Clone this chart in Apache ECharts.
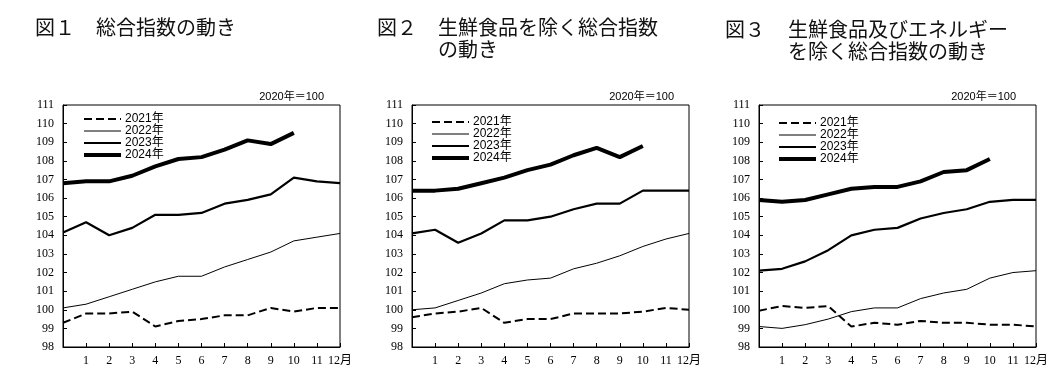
<!DOCTYPE html>
<html><head><meta charset="utf-8">
<script src="https://cdn.jsdelivr.net/npm/echarts@6/dist/echarts.min.js"></script>
<style>html,body{margin:0;padding:0;background:#fff}#c{width:1063px;height:380px}</style>
</head><body><div id="c"></div>
<script>
// x-axis: previous December (blank) then months 1..12
const monthLabels = ['', '1', '2', '3', '4', '5', '6', '7', '8', '9', '10', '11', '12月'];
const yearNames = ['2021年', '2022年', '2023年', '2024年'];

// Fig.1 総合指数
const all2021 = [99.3, 99.8, 99.8, 99.9, 99.1, 99.4, 99.5, 99.7, 99.7, 100.1, 99.9, 100.1, 100.1];
const all2022 = [100.1, 100.3, 100.7, 101.1, 101.5, 101.8, 101.8, 102.3, 102.7, 103.1, 103.7, 103.9, 104.1];
const all2023 = [104.15, 104.7, 104.0, 104.4, 105.1, 105.1, 105.2, 105.7, 105.9, 106.2, 107.1, 106.9, 106.8];
const all2024 = [106.8, 106.9, 106.9, 107.2, 107.7, 108.1, 108.2, 108.6, 109.1, 108.9, 109.5];

// Fig.2 生鮮食品を除く総合指数
const core2021 = [99.6, 99.8, 99.9, 100.1, 99.3, 99.5, 99.5, 99.8, 99.8, 99.8, 99.9, 100.1, 100.0];
const core2022 = [100.0, 100.1, 100.5, 100.9, 101.4, 101.6, 101.7, 102.2, 102.5, 102.9, 103.4, 103.8, 104.1];
const core2023 = [104.1, 104.3, 103.6, 104.1, 104.8, 104.8, 105.0, 105.4, 105.7, 105.7, 106.4, 106.4, 106.4];
const core2024 = [106.4, 106.4, 106.5, 106.8, 107.1, 107.5, 107.8, 108.3, 108.7, 108.2, 108.8];

// Fig.3 生鮮食品及びエネルギーを除く総合指数
const coreCore2021 = [99.95, 100.2, 100.1, 100.2, 99.1, 99.3, 99.2, 99.4, 99.3, 99.3, 99.2, 99.2, 99.1];
const coreCore2022 = [99.1, 99.0, 99.2, 99.5, 99.9, 100.1, 100.1, 100.6, 100.9, 101.1, 101.7, 102.0, 102.1];
const coreCore2023 = [102.1, 102.2, 102.6, 103.2, 104.0, 104.3, 104.4, 104.9, 105.2, 105.4, 105.8, 105.9, 105.9];
const coreCore2024 = [105.9, 105.8, 105.9, 106.2, 106.5, 106.6, 106.6, 106.9, 107.4, 107.5, 108.1];

const panels = [
  [all2021, all2022, all2023, all2024],
  [core2021, core2022, core2023, core2024],
  [coreCore2021, coreCore2022, coreCore2023, coreCore2024]
];

const gridLefts = [63, 412, 759];
const gridWidth = 277;
const legendLefts = [82, 430, 777];
const legendTops = [113, 116, 117];
const noteRights = [1063 - 324, 1063 - 674, 1063 - 1016];

const lineStyles = [
  {color: '#000', width: 2, type: [8, 4]},
  {color: '#000', width: 1},
  {color: '#000', width: 2.2},
  {color: '#000', width: 4}
];

const serif = "'Liberation Serif','Noto Sans CJK JP',serif";
const sans = "'Liberation Sans','Noto Sans CJK JP',sans-serif";
const cjk = "'Noto Sans CJK JP',sans-serif";

const grid = [], xAxis = [], yAxis = [], series = [], legend = [], title = [];
panels.forEach((p, i) => {
  grid.push({left: gridLefts[i], width: gridWidth, top: 105, height: 242, show: true,
    borderColor: '#000', borderWidth: 1, backgroundColor: 'transparent'});
  xAxis.push({type: 'category', gridIndex: i, data: monthLabels, boundaryGap: false,
    axisLine: {lineStyle: {color: '#000', width: 1}},
    axisTick: {inside: true, length: 4, interval: 0, lineStyle: {color: '#000'}},
    axisLabel: {interval: 0, color: '#000', fontSize: 12, fontFamily: serif, margin: 8},
    splitLine: {show: false}});
  yAxis.push({type: 'value', gridIndex: i, min: 98, max: 111, interval: 1,
    axisLine: {show: true, lineStyle: {color: '#000', width: 1}},
    axisTick: {show: true, inside: true, length: 4, lineStyle: {color: '#000'}},
    axisLabel: {color: '#000', fontSize: 12, fontFamily: serif, margin: 9},
    splitLine: {show: false}});
  p.forEach((vals, k) => {
    series.push({type: 'line', name: yearNames[k], xAxisIndex: i, yAxisIndex: i,
      data: vals, symbol: 'none', lineStyle: lineStyles[k], itemStyle: {color: '#000'},
      animation: false, z: 2 + k});
  });
  legend.push({orient: 'vertical', left: legendLefts[i], top: legendTops[i], data: yearNames,
    itemWidth: 37, itemHeight: 10, itemGap: 0, padding: 0, selectedMode: false,
    itemStyle: {color: 'transparent', borderColor: 'transparent', borderWidth: 0, opacity: 0},
    lineStyle: {width: 'inherit', type: 'inherit', color: '#000'},
    textStyle: {color: '#000', fontSize: 12, fontFamily: sans, lineHeight: 10, padding: [0, 0, 0, -1]}});
  title.push({text: '2020年＝100', right: noteRights[i], top: 91, padding: 0,
    textStyle: {fontSize: 11, fontWeight: 'normal', color: '#000', fontFamily: sans}});
});

const titleTexts = [
  ['図１', '総合指数の動き', 35, 96, 16],
  ['図２', '生鮮食品を除く総合指数\nの動き', 377, 438, 16],
  ['図３', '生鮮食品及びエネルギー\nを除く総合指数の動き', 725, 788, 18]
];
titleTexts.forEach(t => {
  title.push({text: t[0], left: t[2], top: t[4], padding: 0,
    textStyle: {fontSize: 20, fontWeight: 'normal', color: '#111', fontFamily: cjk, lineHeight: 22}});
  title.push({text: t[1], left: t[3], top: t[4], padding: 0,
    textStyle: {fontSize: 20, fontWeight: 'normal', color: '#111', fontFamily: cjk, lineHeight: 22}});
});

const chart = echarts.init(document.getElementById('c'), null, {renderer: 'canvas'});
chart.setOption({backgroundColor: '#fff', animation: false, title, legend, grid, xAxis, yAxis, series});
</script></body></html>
